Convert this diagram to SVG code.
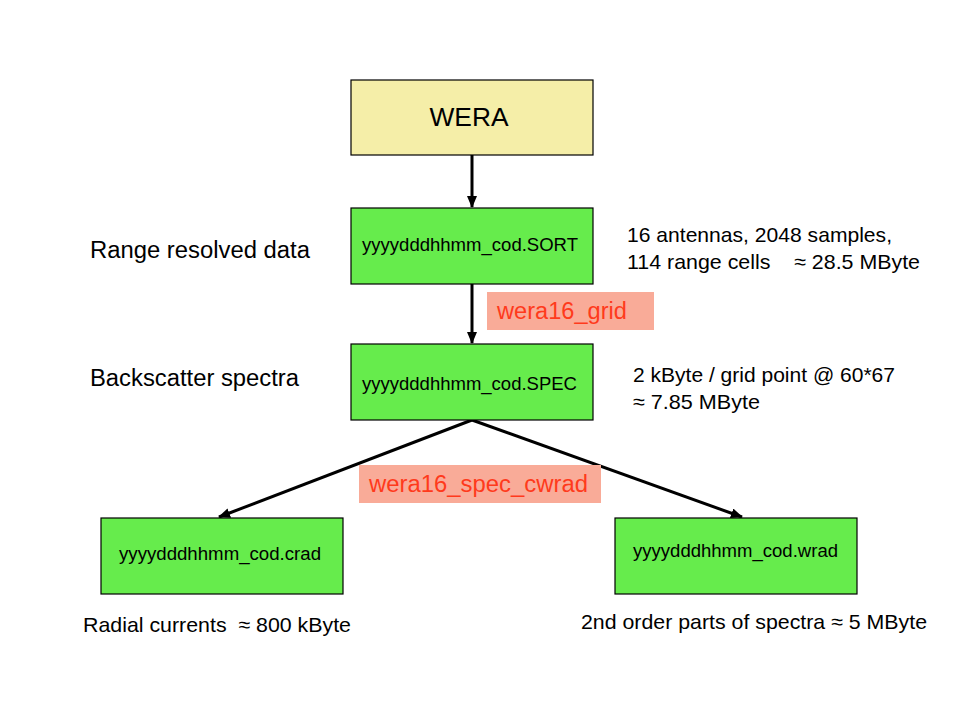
<svg xmlns="http://www.w3.org/2000/svg" width="960" height="720" viewBox="0 0 960 720">
<defs>
<marker id="ah" markerWidth="12" markerHeight="10" refX="11" refY="5" orient="auto" markerUnits="userSpaceOnUse">
<path d="M0,0 L12,5 L0,10 Z" fill="#000"/>
</marker>
<style>
text{font-family:"Liberation Sans",Arial,sans-serif;fill:#000}
.box{fill:#66ec4c;stroke:#000;stroke-width:1.2}
.fn{font-size:17.5px}
.lbl{font-size:23px}
.note{font-size:21px}
.proc{fill:#f9ab98}
.ptxt{font-size:23.5px;fill:#ff3a1c}
.conn{stroke:#000;stroke-width:3;fill:none;marker-end:url(#ah)}
</style>
</defs>
<rect width="960" height="720" fill="#fff"/>
<g id="connectors">
<line class="conn" x1="472" y1="155" x2="472" y2="207"/>
<line class="conn" x1="472" y1="284" x2="472" y2="343"/>
<line class="conn" x1="472" y1="420" x2="219" y2="517"/>
<line class="conn" x1="472" y1="420" x2="742" y2="517"/>
</g>
<g id="wera">
<rect x="351" y="80" width="242" height="75" fill="#f5eea8" stroke="#000" stroke-width="1.2"/>
<text x="469" y="126" font-size="26" text-anchor="middle" textLength="79" lengthAdjust="spacingAndGlyphs">WERA</text>
</g>
<g id="sort">
<rect class="box" x="351" y="208" width="242" height="76"/>
<text class="fn" x="362" y="251" textLength="216" lengthAdjust="spacingAndGlyphs">yyyydddhhmm_cod.SORT</text>
</g>
<g id="spec">
<rect class="box" x="351" y="344" width="242" height="76"/>
<text class="fn" x="362" y="390" textLength="215" lengthAdjust="spacingAndGlyphs">yyyydddhhmm_cod.SPEC</text>
</g>
<g id="crad">
<rect class="box" x="101" y="518" width="242" height="76"/>
<text class="fn" x="119" y="560" textLength="202" lengthAdjust="spacingAndGlyphs">yyyydddhhmm_cod.crad</text>
</g>
<g id="wrad">
<rect class="box" x="615" y="518" width="242" height="76"/>
<text class="fn" x="633" y="557" textLength="205" lengthAdjust="spacingAndGlyphs">yyyydddhhmm_cod.wrad</text>
</g>
<g id="grid-label">
<rect class="proc" x="487" y="292" width="167" height="38"/>
<text class="ptxt" x="497" y="319" textLength="130" lengthAdjust="spacingAndGlyphs">wera16_grid</text>
</g>
<g id="cwrad-label">
<rect class="proc" x="359" y="465" width="242" height="38"/>
<text class="ptxt" x="369" y="492" textLength="219" lengthAdjust="spacingAndGlyphs">wera16_spec_cwrad</text>
</g>
<g id="notes">
<text class="lbl" x="90" y="258" textLength="220" lengthAdjust="spacingAndGlyphs">Range resolved data</text>
<text class="lbl" x="90" y="386" textLength="209" lengthAdjust="spacingAndGlyphs">Backscatter spectra</text>
<text class="note" x="627" y="242" textLength="265" lengthAdjust="spacingAndGlyphs">16 antennas, 2048 samples,</text>
<text class="note" x="627" y="269" xml:space="preserve" textLength="293" lengthAdjust="spacingAndGlyphs">114 range cells    ≈ 28.5 MByte</text>
<text class="note" x="633" y="382" textLength="262" lengthAdjust="spacingAndGlyphs">2 kByte / grid point @ 60*67</text>
<text class="note" x="633" y="409" textLength="127" lengthAdjust="spacingAndGlyphs">≈ 7.85 MByte</text>
<text class="note" x="83" y="632" xml:space="preserve" textLength="268" lengthAdjust="spacingAndGlyphs">Radial currents  ≈ 800 kByte</text>
<text class="note" x="581" y="629" textLength="346" lengthAdjust="spacingAndGlyphs">2nd order parts of spectra ≈ 5 MByte</text>
</g>
</svg>
